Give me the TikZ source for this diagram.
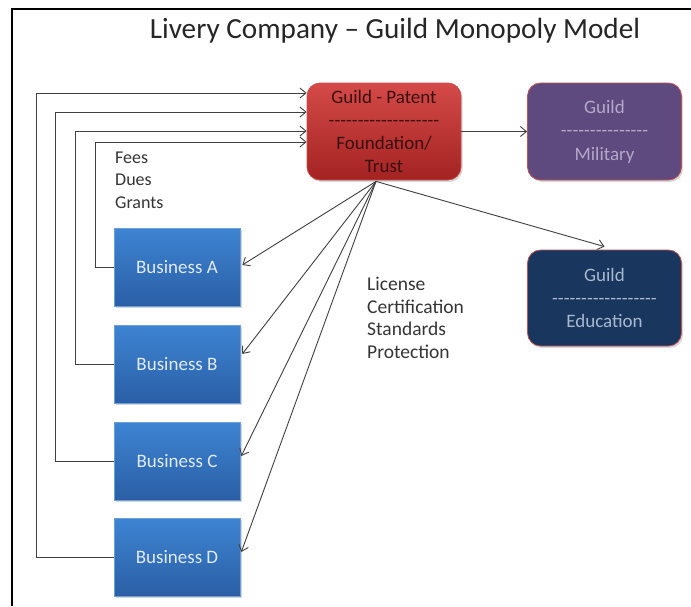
\documentclass[tikz,border=0pt]{standalone}
\usepackage{fontspec}
\setmainfont{Carlito}
\newfontfamily\hyfont{Carlito}
\usetikzlibrary{arrows.meta,shadows}
\definecolor{redTop}{HTML}{D44A48}
\definecolor{redBot}{HTML}{A32322}
\definecolor{redLine}{HTML}{C8504E}
\definecolor{redText}{HTML}{3A1010}
\definecolor{purpFill}{HTML}{5E4A7E}
\definecolor{purpText}{HTML}{B4A8C8}
\definecolor{navyFill}{HTML}{18365E}
\definecolor{navyText}{HTML}{A9B9CD}
\definecolor{guildLine}{HTML}{C05454}
\definecolor{bizTop}{HTML}{3E84D2}
\definecolor{bizBot}{HTML}{2A5FA6}
\definecolor{bizLine}{HTML}{6A9FDC}
\definecolor{bizText}{HTML}{E2EAF4}
\definecolor{arrowGray}{HTML}{404040}
\definecolor{labelText}{HTML}{353535}
\tikzset{
  boxtext/.style={font=\fontsize{19}{23}\selectfont, align=center, inner sep=0pt},
  guildbox/.style={boxtext, rounded corners=13pt, minimum width=154pt, minimum height=97pt,
    line width=0.8pt, drop shadow={opacity=0.3, shadow xshift=1.5pt, shadow yshift=-2pt}},
  bizbox/.style={boxtext, minimum width=126pt, minimum height=78pt, top color=bizTop,
    bottom color=bizBot, draw=bizLine, line width=0.6pt, text=bizText,
    drop shadow={opacity=0.3, shadow xshift=1.5pt, shadow yshift=-2pt}},
  arr/.style={-{Straight Barb[length=6pt,width=10pt]}, draw=arrowGray, line width=0.9pt},
  plainlabel/.style={font=\fontsize{18}{22.7}\selectfont, align=left, text=labelText, inner sep=0pt},
}
\begin{document}
\begin{tikzpicture}[x=1pt,y=-1pt]
\useasboundingbox (0,0) rectangle (691,606);
\fill[white] (0,0) rectangle (691,606);
% frame
\draw[line width=2.4pt] (12,606) -- (12,9) -- (691,9);
% title
\node[font=\fontsize{29.2}{34}\selectfont, text=black!85, inner sep=0pt] (title) at (395,30.5) {Livery Company – Guild Monopoly Model};
% guild boxes
\node[guildbox, top color=redTop, bottom color=redBot, draw=redLine, text=redText] (red) at (384,131.5)
  {Guild - Patent\\{\hyfont -------------------}\\Foundation/\\Trust};
\node[guildbox, fill=purpFill, draw=guildLine, text=purpText] (purp) at (604.5,131.5)
  {Guild\\[0.5pt]{\hyfont ---------------}\\[0.5pt]Military};
\node[guildbox, fill=navyFill, draw=guildLine, text=navyText, minimum height=96pt] (navy) at (604.5,298)
  {Guild\\{\hyfont ------------------}\\Education};
% businesses
\node[bizbox] (bizA) at (177,267) {Business A};
\node[bizbox] (bizB) at (177,364) {Business B};
\node[bizbox] (bizC) at (177,461) {Business C};
\node[bizbox] (bizD) at (177,557) {Business D};
% labels
\node[plainlabel, anchor=west] (fees) at (115,180) {Fees\\Dues\\Grants};
\node[plainlabel, font=\fontsize{19.5}{22.7}\selectfont, anchor=west] (lic) at (367,318) {License\\Certification\\Standards\\Protection};
% feedback loops
\draw[arr] (bizA.west) -- ++(-18,0) |- ([yshift=-10.5pt]red.west);
\draw[arr] (bizB.west) -- ++(-38,0) |- ([yshift=0.5pt]red.west);
\draw[arr] (bizC.west) -- ++(-58,0) |- ([yshift=19.5pt]red.west);
\draw[arr] (bizD.west) -- ++(-77,0) |- ([yshift=38.5pt]red.west);
% fan out
\coordinate (fan) at ([xshift=-8pt,yshift=-1pt]red.south);
\draw[arr] (fan) -- ([xshift=2pt,yshift=2pt]bizA.east);
\draw[arr] (fan) -- ([xshift=2pt,yshift=10pt]bizB.east);
\draw[arr] (fan) -- ([xshift=1pt,yshift=5pt]bizC.east);
\draw[arr] (fan) -- ([xshift=1pt,yshift=5pt]bizD.east);
\draw[arr] (fan) -- ([yshift=3pt]navy.north);
\draw[arr] (red.east) -- (purp.west);
\end{tikzpicture}
\end{document}
